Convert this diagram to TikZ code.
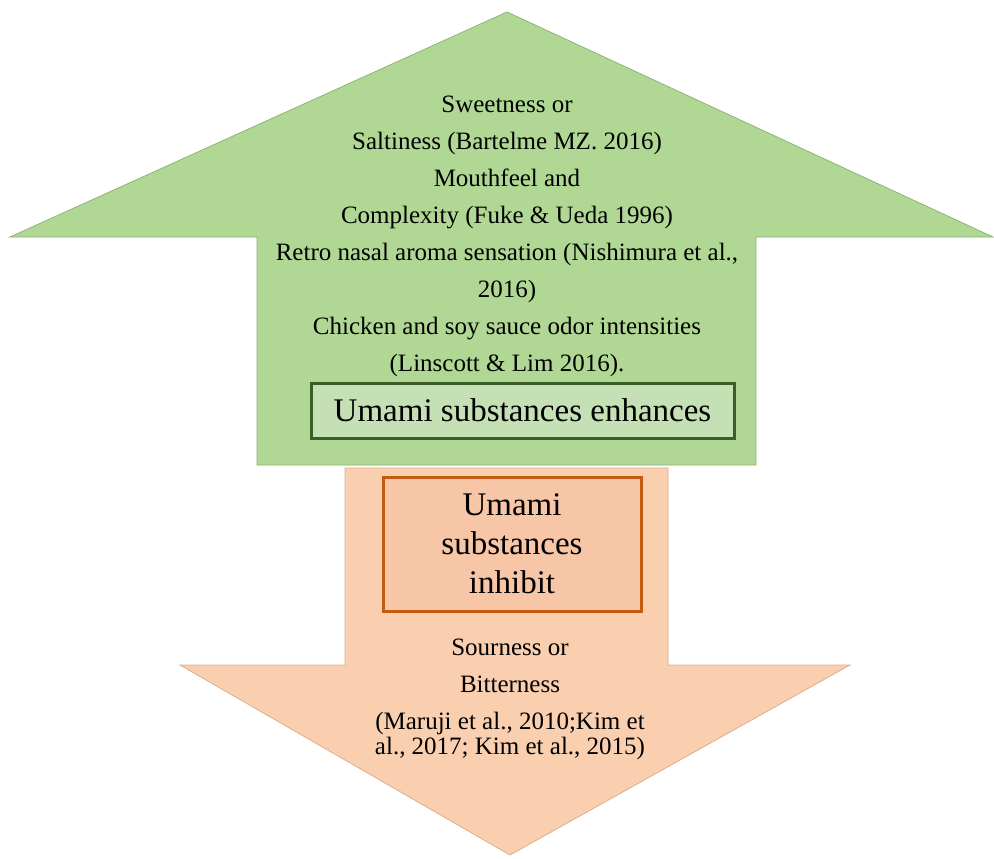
\documentclass[tikz,border=0pt]{standalone}
\usepackage{fontspec}
\setmainfont{Liberation Serif}
\definecolor{upfill}{HTML}{B0D794}
\definecolor{upline}{HTML}{8DB574}
\definecolor{upbox}{HTML}{C5E0B4}
\definecolor{upboxline}{HTML}{3A5F26}
\definecolor{downfill}{HTML}{F9CFAF}
\definecolor{downline}{HTML}{DDAE8C}
\definecolor{downbox}{HTML}{F6C6A6}
\definecolor{downboxline}{HTML}{C55A11}
\tikzset{
  uparrow/.style={fill=upfill, draw=upline, line width=0.8pt, line join=miter},
  downarrow/.style={fill=downfill, draw=downline, line width=0.8pt, line join=miter},
  smalltext/.style={align=center, font=\fontsize{25}{37}\selectfont},
  enhancebox/.style={draw=upboxline, fill=upbox, line width=3pt, minimum width=423pt, minimum height=55pt, font=\fontsize{33}{36}\selectfont},
  inhibitbox/.style={draw=downboxline, fill=downbox, line width=3pt, minimum width=258pt, minimum height=134pt, align=center, font=\fontsize{33}{39}\selectfont}
}
\begin{document}
\begin{tikzpicture}[x=1pt, y=-1pt]
                    \useasboundingbox (0,0) rectangle (994,859);
                    % Up arrow
                    \draw[uparrow]
                       (507,12)
                    -- (993,237)
                    -- (756,237)
                    -- (756,465)
                    -- (257,465)
                    -- (257,237)
                    -- (10,237)
                    -- cycle;
                    % Down arrow
                    \draw[downarrow]
                       (345,468)
                    -- (668,468)
                    -- (668,665)
                    -- (850,665)
                    -- (510,855)
                    -- (180,665)
                    -- (345,665)
                    -- cycle;
                    % Texts
                    \node[smalltext] (enhanced) at (507,236) {Sweetness or\\
                       Saltiness (Bartelme MZ. 2016)\\
                       Mouthfeel and\\
                       Complexity (Fuke \& Ueda 1996)\\
                       Retro nasal aroma sensation (Nishimura et al.,\\
                       2016)\\
                       Chicken and soy sauce odor intensities\\
                       (Linscott \& Lim 2016).};
                    \node[enhancebox] (enhances) at (522.5,410.5) {Umami substances enhances};
                    \node[inhibitbox] (inhibit) at (512,544) {Umami\\substances\\inhibit};
                    \node[smalltext] (inhibited) at (510,699) {Sourness or\\
                       Bitterness\\
                       (Maruji et al., 2010;Kim et\\[-12pt]
                       al., 2017; Kim et al., 2015)};
                \end{tikzpicture}
\end{document}
